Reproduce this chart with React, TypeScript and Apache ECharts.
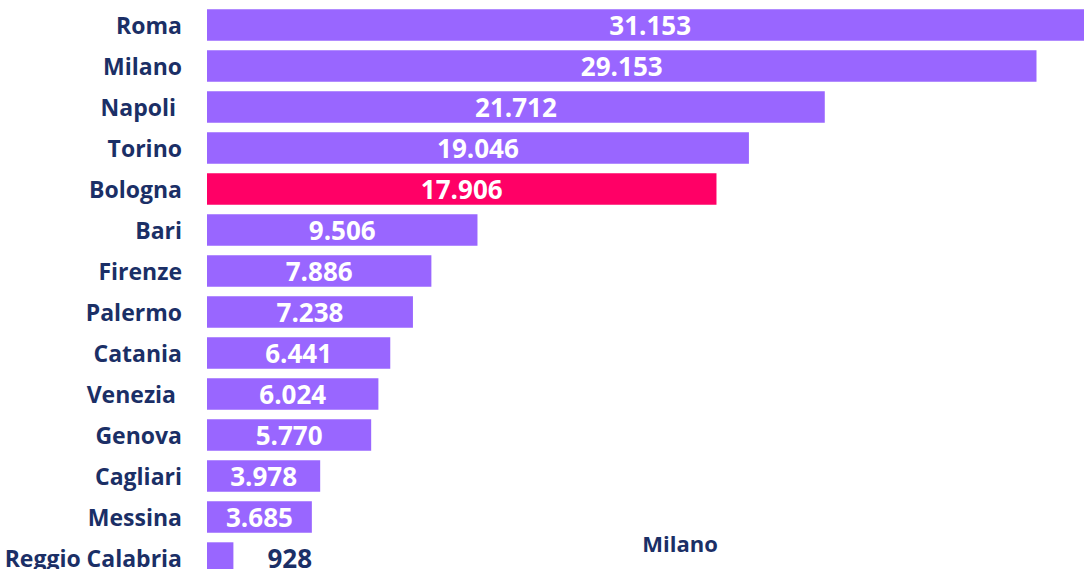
import React, { useEffect, useRef } from "react";
import * as echarts from "echarts";

const categories = [
  "Roma", "Milano", "Napoli ", "Torino", "Bologna", "Bari", "Firenze",
  "Palermo", "Catania", "Venezia ", "Genova", "Cagliari", "Messina", "Reggio Calabria",
];
const values = [31153, 29153, 21712, 19046, 17906, 9506, 7886, 7238, 6441, 6024, 5770, 3978, 3685, 928];
const highlighted = "Bologna";
const outsideLabel = "Reggio Calabria";
const strayText = "Milano";

const PURPLE = "#9966FF";
const PINK = "#FF0066";
const NAVY = "#1B2F66";
const FONT = "'Open Sans', sans-serif";

const fmt = (v: number) => v.toString().replace(/\B(?=(\d{3})+(?!\d))/g, ".");

export default function App() {
  const ref = useRef<HTMLDivElement>(null);
  useEffect(() => {
    if (!ref.current) return;
    const chart = echarts.init(ref.current, null, { renderer: "svg" });
    const data = categories.map((c, i) => {
      const item: any = {
        value: values[i],
        itemStyle: { color: c === highlighted ? PINK : PURPLE },
      };
      if (c === outsideLabel) {
        item.label = { position: "right", distance: 34, color: NAVY };
      }
      return item;
    });
    chart.setOption({
      animation: false,
      grid: { left: 207, top: 4.5, height: 574, width: 910.5 },
      xAxis: { type: "value", min: 0, max: 32000, show: false },
      yAxis: {
        type: "category",
        data: categories,
        inverse: true,
        axisLine: { show: false },
        axisTick: { show: false },
        splitLine: { show: false },
        axisLabel: {
          color: NAVY,
          fontFamily: FONT,
          fontWeight: "bold",
          fontSize: 23,
          margin: 25,
        },
      },
      series: [
        {
          type: "bar",
          data,
          barWidth: 31.4,
          label: {
            show: true,
            position: "inside",
            color: "#FFFFFF",
            fontFamily: FONT,
            fontWeight: "bold",
            fontSize: 26,
            formatter: (p: any) => fmt(p.value),
          },
        },
      ],
      graphic: [
        {
          type: "text",
          x: 680,
          y: 543,
          style: {
            text: strayText,
            fill: NAVY,
            font: `bold 22px ${FONT}`,
            textAlign: "center",
            textVerticalAlign: "middle",
          },
        },
      ],
    });
    return () => chart.dispose();
  }, []);
  return (
    <div style={{ position: "fixed", left: 0, top: 0, width: 1084, height: 569, overflow: "hidden", background: "#fff" }}>
      <div ref={ref} style={{ width: 1130, height: 590 }} />
    </div>
  );
}
